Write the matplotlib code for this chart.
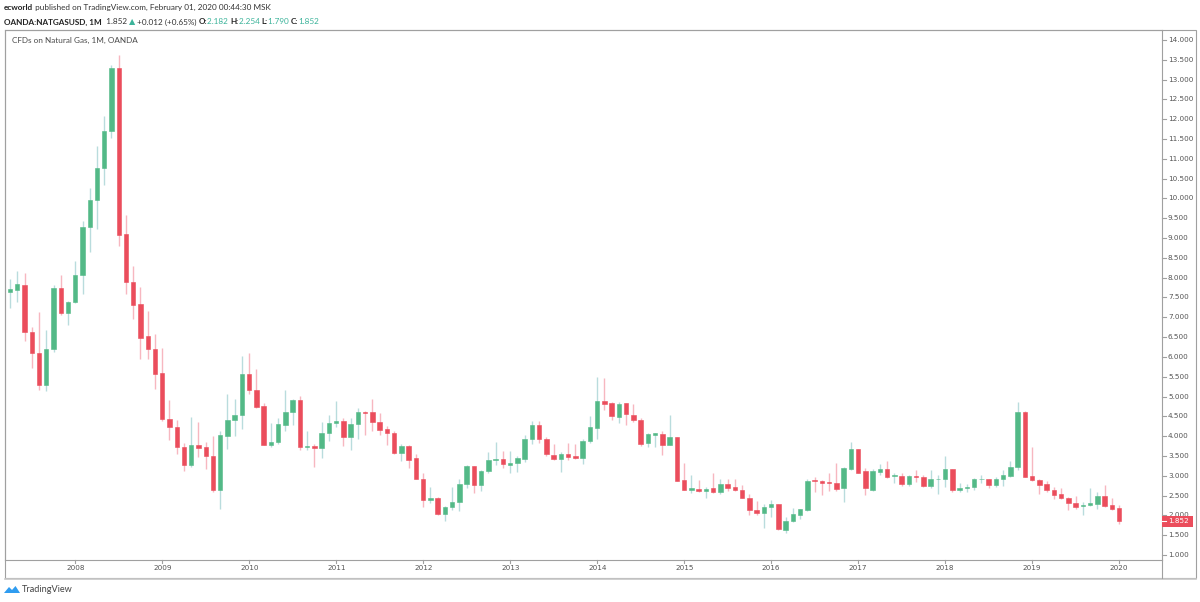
import matplotlib
matplotlib.use("Agg")
import matplotlib.pyplot as plt
from matplotlib.patches import Rectangle, Polygon
import numpy as np
import pandas as pd

# ---------------- data (monthly OHLC, Apr 2007 .. Jan 2020) ----------------
start_month = "2007-04"
opens = [7.64, 7.69, 7.82, 6.64, 6.11, 5.30, 6.21, 7.74, 7.10, 7.38,
         8.07, 9.28, 9.96, 10.77, 11.71, 13.29, 9.10, 7.89, 7.33, 6.52,
         6.21, 5.59, 4.44, 4.22, 3.73, 3.27, 3.77, 3.73, 3.51, 2.64,
         4.01, 4.42, 4.54, 5.57, 5.16, 4.76, 3.78, 3.85, 4.29, 4.61,
         4.92, 3.73, 3.74, 3.71, 4.07, 4.34, 4.39, 3.98, 4.31, 4.62,
         4.61, 4.35, 4.17, 4.08, 3.58, 3.75, 3.44, 2.93, 2.40, 2.45,
         2.03, 2.22, 2.35, 2.78, 3.24, 2.76, 3.12, 3.39, 3.43, 3.28,
         3.31, 3.42, 3.94, 4.27, 3.94, 3.52, 3.42, 3.56, 3.50, 3.45,
         3.87, 4.21, 4.88, 4.84, 4.49, 4.83, 4.53, 4.42, 3.82, 4.04,
         4.05, 3.78, 3.98, 2.89, 2.65, 2.67, 2.61, 2.68, 2.60, 2.79,
         2.71, 2.65, 2.44, 2.14, 2.06, 2.20, 2.28, 1.63, 1.86, 2.02,
         2.14, 2.89, 2.87, 2.84, 2.83, 2.69, 3.17, 3.67, 3.11, 2.65,
         3.10, 3.17, 2.99, 3.00, 2.79, 3.00, 2.97, 2.75, 2.91, 2.92,
         3.17, 2.65, 2.68, 2.71, 2.91, 2.91, 2.76, 2.91, 3.00, 3.23,
         4.61, 2.99, 2.89, 2.78, 2.65, 2.54, 2.43, 2.32, 2.23, 2.26,
         2.29, 2.49, 2.25, 2.182]
highs = [7.96, 8.17, 8.11, 6.76, 7.13, 6.68, 7.81, 8.07, 7.40, 8.42,
         9.43, 10.26, 11.32, 12.09, 13.36, 13.62, 9.58, 8.29, 7.76, 7.16,
         6.58, 6.23, 4.91, 4.42, 3.83, 4.49, 4.35, 3.86, 4.01, 4.13,
         5.06, 4.93, 6.02, 6.10, 5.70, 4.83, 4.32, 4.45, 5.16, 4.93,
         5.01, 4.13, 3.79, 4.36, 4.53, 4.88, 4.47, 4.45, 4.70, 4.63,
         4.93, 4.59, 4.25, 4.14, 3.80, 3.77, 3.56, 3.08, 2.72, 2.46,
         2.24, 2.72, 2.92, 3.26, 3.24, 3.14, 3.60, 3.86, 3.62, 3.62,
         3.49, 4.04, 4.38, 4.38, 3.98, 3.81, 3.61, 3.82, 3.80, 3.92,
         4.52, 5.50, 5.48, 4.85, 4.86, 4.84, 4.81, 4.47, 4.07, 4.08,
         4.13, 4.54, 3.98, 3.33, 3.01, 2.89, 2.72, 3.07, 2.93, 2.93,
         2.92, 2.76, 2.53, 2.37, 2.28, 2.40, 2.28, 1.95, 2.18, 2.16,
         2.92, 2.96, 2.89, 3.07, 3.31, 3.23, 3.85, 3.67, 3.19, 3.16,
         3.29, 3.37, 3.07, 3.08, 3.01, 3.14, 3.02, 3.14, 3.03, 3.50,
         3.17, 2.81, 2.78, 2.95, 3.03, 2.92, 2.97, 3.14, 3.37, 4.87,
         4.64, 3.73, 2.93, 2.87, 2.72, 2.68, 2.47, 2.49, 2.34, 2.70,
         2.58, 2.76, 2.44, 2.254]
lows = [7.24, 7.39, 6.41, 5.73, 5.16, 5.14, 6.13, 7.06, 6.80, 7.37,
        7.59, 8.65, 9.22, 10.35, 11.53, 8.80, 7.59, 6.95, 5.96, 5.95,
        5.18, 4.39, 3.90, 3.56, 3.12, 3.23, 3.48, 3.16, 2.59, 2.16,
        3.67, 4.00, 4.19, 5.06, 4.70, 3.77, 3.73, 3.79, 4.13, 4.27,
        3.66, 3.66, 3.23, 3.45, 3.88, 4.24, 3.75, 3.66, 3.93, 4.03,
        4.13, 4.03, 3.77, 3.56, 3.38, 3.20, 2.91, 2.22, 2.30, 2.01,
        1.86, 2.14, 2.12, 2.68, 2.57, 2.62, 3.07, 3.27, 3.19, 3.06,
        3.10, 3.35, 3.81, 3.82, 3.49, 3.39, 3.10, 3.39, 3.43, 3.29,
        3.82, 3.92, 4.66, 4.42, 4.32, 4.29, 4.35, 3.75, 3.72, 3.73,
        3.52, 3.77, 2.86, 2.64, 2.56, 2.59, 2.43, 2.57, 2.53, 2.61,
        2.62, 2.43, 2.02, 2.02, 1.67, 1.96, 1.63, 1.56, 1.84, 1.90,
        2.12, 2.60, 2.51, 2.62, 2.62, 2.35, 3.14, 3.06, 2.51, 2.62,
        3.01, 2.95, 2.82, 2.75, 2.74, 2.85, 2.72, 2.70, 2.53, 2.71,
        2.59, 2.59, 2.59, 2.64, 2.82, 2.68, 2.72, 2.74, 2.96, 3.14,
        2.96, 2.86, 2.54, 2.59, 2.41, 2.41, 2.13, 2.15, 2.02, 2.23,
        2.16, 2.20, 2.13, 1.790]
closes = [7.71, 7.83, 6.63, 6.10, 5.30, 6.21, 7.74, 7.10, 7.39, 8.07,
          9.29, 9.96, 10.78, 11.71, 13.30, 9.09, 7.88, 7.32, 6.49, 6.20,
          5.57, 4.43, 4.22, 3.72, 3.27, 3.77, 3.71, 3.50, 2.64, 4.03,
          4.42, 4.54, 5.57, 5.16, 4.74, 3.78, 3.84, 4.30, 4.62, 4.92,
          3.73, 3.75, 3.71, 4.07, 4.34, 4.39, 3.98, 4.30, 4.62, 4.59,
          4.35, 4.15, 4.07, 3.58, 3.75, 3.41, 2.92, 2.40, 2.45, 2.03,
          2.22, 2.35, 2.78, 3.24, 2.77, 3.12, 3.39, 3.43, 3.29, 3.31,
          3.44, 3.94, 4.27, 3.92, 3.54, 3.42, 3.56, 3.48, 3.45, 3.89,
          4.22, 4.88, 4.82, 4.50, 4.80, 4.55, 4.40, 3.81, 4.05, 4.07,
          3.78, 3.97, 2.88, 2.65, 2.68, 2.61, 2.66, 2.60, 2.79, 2.70,
          2.64, 2.44, 2.14, 2.06, 2.22, 2.28, 1.65, 1.86, 2.03, 2.15,
          2.87, 2.87, 2.83, 2.81, 2.66, 3.19, 3.67, 3.08, 2.68, 3.11,
          3.18, 2.97, 3.01, 2.78, 2.99, 2.96, 2.75, 2.92, 2.93, 3.17,
          2.65, 2.70, 2.71, 2.91, 2.93, 2.76, 2.91, 3.02, 3.22, 4.61,
          2.97, 2.89, 2.76, 2.64, 2.52, 2.44, 2.30, 2.22, 2.26, 2.30,
          2.49, 2.24, 2.16, 1.852]
year_labels = ["2008", "2009", "2010", "2011", "2012", "2013", "2014",
               "2015", "2016", "2017", "2018", "2019", "2020"]
price_ticks = [1.0, 1.5, 2.0, 2.5, 3.0, 3.5, 4.0, 4.5, 5.0, 5.5, 6.0, 6.5, 7.0,
               7.5, 8.0, 8.5, 9.0, 9.5, 10.0, 10.5, 11.0, 11.5, 12.0, 12.5,
               13.0, 13.5, 14.0]
last_price = 1.852

# ---------------- styling ----------------
W, H = 1200, 602
UP, DOWN = "#53b987", "#eb4d5c"
UP_WICK, DOWN_WICK = "#b9dcdd", "#f7b7c0"
FRAME = "#a0a0a0"
TXT = "#333333"
HEAD_FONT = ['Lato', 'DejaVu Sans']
plt.rcParams['font.family'] = ['DejaVu Sans']

fig = plt.figure(figsize=(W / 100, H / 100), dpi=100)
fig.patch.set_facecolor("white")
renderer = fig.canvas.get_renderer()

def fx(px):
    return px / W

def fy(py):
    return 1 - py / H

# plot area (pixel box: x 5..1162, y 30..560)
L, R, T, B = 5, 1162, 30, 560
ax = fig.add_axes([fx(L), fy(B), fx(R - L), (B - T) / H])
months = pd.period_range(start=start_month, periods=len(opens), freq="M")
xs = np.arange(len(months))

o = np.array(opens); h = np.array(highs); l = np.array(lows); c = np.array(closes)
up = c >= o
colors = np.where(up, UP, DOWN)
wcolors = np.where(up, UP_WICK, DOWN_WICK)
ax.vlines(xs, l, h, colors=wcolors, linewidth=1.0, zorder=1)
body_lo = np.minimum(o, c)
body_h = np.maximum(np.abs(c - o), 0.02)
ax.bar(xs, body_h, bottom=body_lo, width=0.62, color=colors,
       edgecolor=colors, linewidth=0.4, zorder=2)

ax.set_xlim(-0.69, 158.9)
ax.set_ylim(0.8737, 14.2525)
ax.set_xticks([])
ax.set_yticks([])
for s in ax.spines.values():
    s.set_color(FRAME)
    s.set_linewidth(0.8)

# price axis ticks/labels
for v in price_ticks:
    yy = ax.transData.transform((0, v))[1]
    yfig = yy / H
    fig.add_artist(plt.Line2D([fx(R), fx(R + 4)], [yfig, yfig], color=FRAME, lw=0.8))
    fig.text(fx(R + 6), yfig, "%.3f" % v, fontsize=5.2, color="#555555",
             va="center", ha="left", zorder=1)

# time axis ticks/labels
jan_idx = [i for i, m in enumerate(months) if m.month == 1]
for i, lab in zip(jan_idx, year_labels):
    xx = ax.transData.transform((i, 0))[0] / W
    fig.add_artist(plt.Line2D([xx, xx], [fy(B), fy(B + 3)], color=FRAME, lw=0.8))
    fig.text(xx, fy(568.5), lab, fontsize=5.2, color="#555555", ha="center", va="center")

# outer frame
fig.add_artist(Rectangle((fx(L), fy(578)), fx(1196 - L), (578 - T) / H,
                         fill=False, edgecolor=FRAME, lw=0.8))
fig.add_artist(plt.Line2D([fx(L), fx(1196)], [fy(578.5), fy(578.5)], color="#c8c8c8", lw=1.2))
fig.add_artist(plt.Line2D([fx(R), fx(R)], [fy(B), fy(578)], color=FRAME, lw=0.8))

# last price label
yl = ax.transData.transform((0, last_price))[1] / H
lab_box = Rectangle((fx(R), yl - 5.5 / H), fx(31), 11 / H, facecolor=DOWN,
                    edgecolor=DOWN, lw=0, zorder=5)
fig.add_artist(lab_box)
fig.add_artist(plt.Line2D([fx(R), fx(R + 4)], [yl, yl], color="white", lw=0.8, zorder=6))
fig.text(fx(R + 6), yl, "%.3f" % last_price, fontsize=5.2, color="white",
         va="center", ha="left", zorder=6)

# header lines (pieces of coloured text), scaled to the reference widths
def run_width(pieces, size):
    total = 0
    for s, col, wt in pieces:
        t = fig.text(0, 0, s, fontsize=size, fontweight=wt, family=HEAD_FONT)
        total += t.get_window_extent(renderer=renderer).width
        t.remove()
    return total

def text_run(x0, y0, pieces, target_w):
    size = 6.0 * target_w / run_width(pieces, 6.0)
    x = x0
    for s, col, wt in pieces:
        t = fig.text(fx(x), fy(y0), s, fontsize=size, color=col, fontweight=wt,
                     va="center", ha="left", family=HEAD_FONT)
        x += t.get_window_extent(renderer=renderer).width

GREEN_TXT = "#3bb39a"
line1 = [("ecworld", "#222222", "bold"),
         (" published on TradingView.com, February 01, 2020 00:44:30 MSK", TXT, "normal")]
line2 = [("OANDA:NATGASUSD, 1M", "#222222", "bold"),
         ("  1.852 ", TXT, "normal"),
         ("\u25b2", GREEN_TXT, "normal"),
         (" +0.012 (+0.65%) ", TXT, "normal"),
         ("O:", "#222222", "bold"), ("2.182 ", GREEN_TXT, "normal"),
         ("H:", "#222222", "bold"), ("2.254 ", GREEN_TXT, "normal"),
         ("L:", "#222222", "bold"), ("1.790 ", GREEN_TXT, "normal"),
         ("C:", "#222222", "bold"), ("1.852", GREEN_TXT, "normal")]
text_run(4, 7.5, line1, 269)
text_run(4, 22, line2, 319)
text_run(12, 40, [("CFDs on Natural Gas, 1M, OANDA", "#4a4a4a", "normal")], 126)

# TradingView logo
logo = Polygon([[fx(4), fy(593)], [fx(9), fy(587)], [fx(12), fy(590)], [fx(15.5), fy(586)],
                [fx(20), fy(593)]], closed=True, facecolor="#2f9cf0", edgecolor="none")
fig.add_artist(logo)
fig.text(fx(22), fy(590), "TradingView", fontsize=6.6, color="#444444",
         va="center", ha="left", family=HEAD_FONT)

fig.savefig("out.png", dpi=100, facecolor="white")
